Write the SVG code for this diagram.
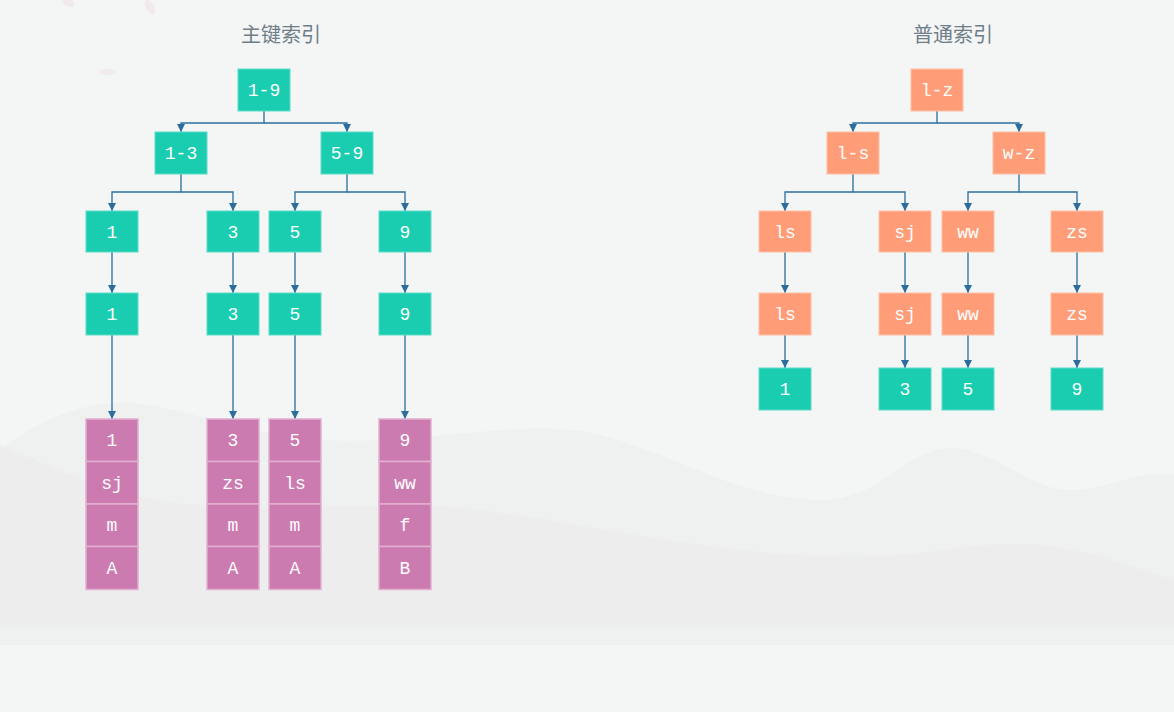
<svg xmlns="http://www.w3.org/2000/svg" width="1174" height="712" viewBox="0 0 1174 712">
<style>
.bg{fill:#f4f5f5}
.g rect{fill:#1acdb0;stroke:#5fdcc8;stroke-width:1}
.o rect{fill:#ff9d78;stroke:#ffbfa6;stroke-width:1}
.p rect{fill:#cc7bb0;stroke:#e2b0d0;stroke-width:1.5}
.t{font-family:"Liberation Mono","DejaVu Sans Mono",monospace;font-size:18px;fill:#ffffff;text-anchor:middle}
.title{font-family:"Noto Sans CJK SC","Noto Sans",sans-serif;font-size:20px;fill:#6f7d89;text-anchor:middle}
.c path{fill:none;stroke:#2c6d9e;stroke-width:1.3;marker-end:url(#arr)}
</style>
<defs>
<marker id="arr" markerUnits="userSpaceOnUse" markerWidth="10" markerHeight="10" refX="8" refY="4.5" orient="auto">
<path d="M0,0.5 L8,4.5 L0,8.5 z" fill="#2c6d9e"/>
</marker>
</defs>
<rect class="bg" x="0" y="0" width="1174" height="712"/>
<g id="background">
<ellipse cx="68" cy="2" rx="7" ry="4" fill="#f2e9ea" transform="rotate(30 68 2)"/>
<ellipse cx="150" cy="7" rx="4" ry="8" fill="#f2e9ea" transform="rotate(-30 150 7)"/>
<ellipse cx="107" cy="72" rx="9" ry="3" fill="#f2eaeb"/>
<path d="M0 450 C40 420 90 395 150 405 C230 420 270 445 380 440 C470 435 540 420 600 435 C680 455 740 500 823 500 C880 500 910 445 954 448 C1000 452 1030 490 1070 490 C1110 490 1130 470 1174 475 L1174 645 L0 645 Z" fill="#eff1f1"/>
<path d="M0 445 C60 470 120 500 200 505 C300 512 400 500 480 510 C600 525 750 565 900 555 C950 550 990 540 1040 545 C1100 552 1140 570 1174 580 L1174 645 L0 645 Z" fill="#ededee"/>
<rect x="0" y="627" width="1174" height="18" fill="#eff1f1"/>
<rect x="0" y="645" width="1174" height="67" fill="#f4f5f5"/>
</g>
<text class="title" x="281" y="42">主键索引</text>
<text class="title" x="953" y="42">普通索引</text>
<g id="connectors" class="c">
<path d="M264 111 V123 H181 V132"/>
<path d="M264 123 H347 V132"/>
<path d="M181 174 V192 H112 V211"/>
<path d="M181 192 H233 V211"/>
<path d="M347 174 V192 H295 V211"/>
<path d="M347 192 H405 V211"/>
<path d="M112 252 V293"/>
<path d="M233 252 V293"/>
<path d="M295 252 V293"/>
<path d="M405 252 V293"/>
<path d="M112 335 V419"/>
<path d="M233 335 V419"/>
<path d="M295 335 V419"/>
<path d="M405 335 V419"/>
<path d="M937 111 V123 H853 V132"/>
<path d="M937 123 H1019 V132"/>
<path d="M853 174 V192 H785 V211"/>
<path d="M853 192 H905 V211"/>
<path d="M1019 174 V192 H968 V211"/>
<path d="M1019 192 H1077 V211"/>
<path d="M785 252 V293"/>
<path d="M905 252 V293"/>
<path d="M968 252 V293"/>
<path d="M1077 252 V293"/>
<path d="M785 335 V368"/>
<path d="M905 335 V368"/>
<path d="M968 335 V368"/>
<path d="M1077 335 V368"/>
</g>
<g id="pk-root" class="g"><rect x="238" y="69" width="52" height="42"/><text class="t" x="264" y="96">1-9</text></g>
<g id="pk-1-3" class="g"><rect x="155" y="132" width="52" height="42"/><text class="t" x="181" y="159">1-3</text></g>
<g id="pk-5-9" class="g"><rect x="321" y="132" width="52" height="42"/><text class="t" x="347" y="159">5-9</text></g>
<g id="pk-l3-1" class="g"><rect x="86" y="211" width="52" height="41"/><text class="t" x="112" y="238">1</text></g>
<g id="pk-l3-3" class="g"><rect x="207" y="211" width="52" height="41"/><text class="t" x="233" y="238">3</text></g>
<g id="pk-l3-5" class="g"><rect x="269" y="211" width="52" height="41"/><text class="t" x="295" y="238">5</text></g>
<g id="pk-l3-9" class="g"><rect x="379" y="211" width="52" height="41"/><text class="t" x="405" y="238">9</text></g>
<g id="pk-l4-1" class="g"><rect x="86" y="293" width="52" height="42"/><text class="t" x="112" y="320">1</text></g>
<g id="pk-l4-3" class="g"><rect x="207" y="293" width="52" height="42"/><text class="t" x="233" y="320">3</text></g>
<g id="pk-l4-5" class="g"><rect x="269" y="293" width="52" height="42"/><text class="t" x="295" y="320">5</text></g>
<g id="pk-l4-9" class="g"><rect x="379" y="293" width="52" height="42"/><text class="t" x="405" y="320">9</text></g>
<g id="row-1" class="p">
<rect x="86" y="419" width="52" height="42.5"/><text class="t" x="112" y="446">1</text>
<rect x="86" y="461.5" width="52" height="42.5"/><text class="t" x="112" y="489">sj</text>
<rect x="86" y="504" width="52" height="42.5"/><text class="t" x="112" y="531">m</text>
<rect x="86" y="546.5" width="52" height="43"/><text class="t" x="112" y="574">A</text>
</g>
<g id="row-3" class="p">
<rect x="207" y="419" width="52" height="42.5"/><text class="t" x="233" y="446">3</text>
<rect x="207" y="461.5" width="52" height="42.5"/><text class="t" x="233" y="489">zs</text>
<rect x="207" y="504" width="52" height="42.5"/><text class="t" x="233" y="531">m</text>
<rect x="207" y="546.5" width="52" height="43"/><text class="t" x="233" y="574">A</text>
</g>
<g id="row-5" class="p">
<rect x="269" y="419" width="52" height="42.5"/><text class="t" x="295" y="446">5</text>
<rect x="269" y="461.5" width="52" height="42.5"/><text class="t" x="295" y="489">ls</text>
<rect x="269" y="504" width="52" height="42.5"/><text class="t" x="295" y="531">m</text>
<rect x="269" y="546.5" width="52" height="43"/><text class="t" x="295" y="574">A</text>
</g>
<g id="row-9" class="p">
<rect x="379" y="419" width="52" height="42.5"/><text class="t" x="405" y="446">9</text>
<rect x="379" y="461.5" width="52" height="42.5"/><text class="t" x="405" y="489">ww</text>
<rect x="379" y="504" width="52" height="42.5"/><text class="t" x="405" y="531">f</text>
<rect x="379" y="546.5" width="52" height="43"/><text class="t" x="405" y="574">B</text>
</g>
<g id="ix-root" class="o"><rect x="911" y="69" width="52" height="42"/><text class="t" x="937" y="96">l-z</text></g>
<g id="ix-l-s" class="o"><rect x="827" y="132" width="52" height="42"/><text class="t" x="853" y="159">l-s</text></g>
<g id="ix-w-z" class="o"><rect x="993" y="132" width="52" height="42"/><text class="t" x="1019" y="159">w-z</text></g>
<g id="ix-l3-ls" class="o"><rect x="759" y="211" width="52" height="41"/><text class="t" x="785" y="238">ls</text></g>
<g id="ix-l3-sj" class="o"><rect x="879" y="211" width="52" height="41"/><text class="t" x="905" y="238">sj</text></g>
<g id="ix-l3-ww" class="o"><rect x="942" y="211" width="52" height="41"/><text class="t" x="968" y="238">ww</text></g>
<g id="ix-l3-zs" class="o"><rect x="1051" y="211" width="52" height="41"/><text class="t" x="1077" y="238">zs</text></g>
<g id="ix-l4-ls" class="o"><rect x="759" y="293" width="52" height="42"/><text class="t" x="785" y="320">ls</text></g>
<g id="ix-l4-sj" class="o"><rect x="879" y="293" width="52" height="42"/><text class="t" x="905" y="320">sj</text></g>
<g id="ix-l4-ww" class="o"><rect x="942" y="293" width="52" height="42"/><text class="t" x="968" y="320">ww</text></g>
<g id="ix-l4-zs" class="o"><rect x="1051" y="293" width="52" height="42"/><text class="t" x="1077" y="320">zs</text></g>
<g id="ix-pk-1" class="g"><rect x="759" y="368" width="52" height="42"/><text class="t" x="785" y="395">1</text></g>
<g id="ix-pk-3" class="g"><rect x="879" y="368" width="52" height="42"/><text class="t" x="905" y="395">3</text></g>
<g id="ix-pk-5" class="g"><rect x="942" y="368" width="52" height="42"/><text class="t" x="968" y="395">5</text></g>
<g id="ix-pk-9" class="g"><rect x="1051" y="368" width="52" height="42"/><text class="t" x="1077" y="395">9</text></g>
</svg>
